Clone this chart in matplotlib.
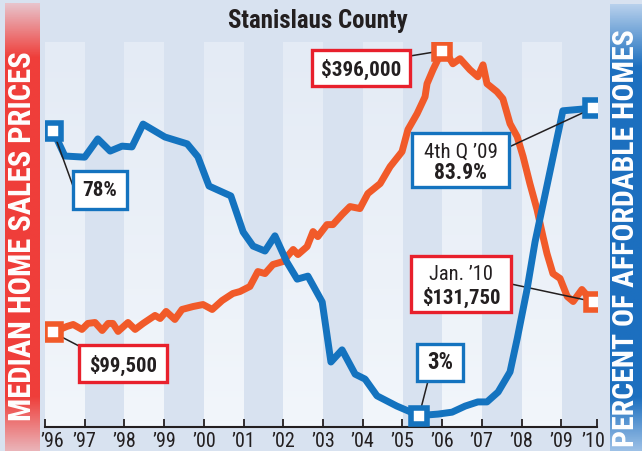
# -*- coding: UTF-8 -*-
import numpy as np
import matplotlib
matplotlib.use('Agg')
import matplotlib.pyplot as plt
from matplotlib import font_manager
from matplotlib.patches import Rectangle
from matplotlib.colors import LinearSegmentedColormap
from matplotlib.transforms import ScaledTranslation

# percent of affordable homes (blue line)
pct_year = [1996.2, 1996.5, 1997.0, 1997.33, 1997.64, 1997.94, 1998.19, 1998.47, 1999.02,
            1999.58, 1999.85, 2000.13, 2000.68, 2000.99, 2001.24, 2001.54, 2001.79, 2002.09,
            2002.35, 2002.62, 2002.98, 2003.2, 2003.48, 2003.81, 2004.06, 2004.36, 2004.86,
            2005.42, 2005.9, 2006.25, 2006.58, 2006.9, 2007.13, 2007.41, 2007.71, 2007.89,
            2008.14, 2008.34, 2009.04, 2009.8]
pct_val = [78, 71.3, 71.0, 75.8, 72.6, 73.9, 73.7, 79.7, 76.3,
           74.5, 71.1, 63.4, 60.8, 51.3, 47.6, 46.3, 50.3, 43.4,
           38.9, 39.7, 32.9, 17.1, 20.3, 13.9, 12.6, 8.2, 5.5,
           3.0, 3.4, 3.9, 5.5, 6.6, 6.6, 9.2, 14.5, 23.2,
           36.3, 48.7, 83.2, 83.9]

# median home sales price (orange line)
price_year = [1996.2, 1996.55, 1996.71, 1996.93, 1997.08, 1997.26, 1997.44, 1997.59, 1997.71,
              1997.84, 1998.09, 1998.27, 1998.47, 1998.77, 1998.9, 1999.05, 1999.27, 1999.45,
              1999.73, 1999.98, 2000.21, 2000.46, 2000.73, 2000.91, 2001.16, 2001.36, 2001.54,
              2001.74, 2001.99, 2002.25, 2002.37, 2002.6, 2002.75, 2002.87, 2003.1, 2003.25,
              2003.48, 2003.68, 2003.93, 2004.13, 2004.44, 2004.69, 2004.99, 2005.14, 2005.37,
              2005.57, 2005.62, 2005.77, 2006.0, 2006.12, 2006.27, 2006.45, 2006.7, 2006.9,
              2007.03, 2007.13, 2007.38, 2007.53, 2007.71, 2007.89, 2008.04, 2008.21, 2008.39,
              2008.54, 2008.64, 2008.79, 2008.97, 2009.15, 2009.3, 2009.52, 2009.67, 2009.83]
price_val = [99500, 105800, 107900, 102700, 109000, 110000, 101600, 109000, 109000,
             100600, 110000, 102700, 109000, 117400, 114200, 121600, 113200, 123700,
             126800, 128900, 123700, 133100, 140500, 142600, 147900, 163600, 161500,
             171000, 174100, 186800, 181500, 189900, 205700, 200400, 213000, 213000,
             223600, 232000, 229900, 245700, 256200, 274000, 289800, 313000, 329800,
             347600, 361300, 376000, 396000, 392800, 382300, 387600, 376000, 368600,
             381200, 361300, 352900, 345500, 319200, 305600, 284500, 256200, 228800,
             200400, 182600, 161500, 156300, 137400, 132100, 144700, 137400, 131750]

year_ticks = [1996, 1997, 1998, 1999, 2000, 2001, 2002, 2003, 2004, 2005, 2006, 2007, 2008, 2009, 2009.9]
year_labels = ['’96', '’97', '’98', '’99', '’00', '’01', '’02', '’03', '’04', '’05',
               '’06', '’07', '’08', '’09', '’10']

names = {f.name for f in font_manager.fontManager.ttflist}
NARROW = next((n for n in ['Liberation Sans Narrow', 'Roboto Condensed', 'Open Sans Condensed',
                           'DejaVu Sans Condensed'] if n in names), 'DejaVu Sans')
plt.rcParams['font.family'] = [NARROW, 'DejaVu Sans']
plt.rcParams['font.stretch'] = 'condensed'

BG = '#d8e2f0'
BLUE = '#1473bf'
ORANGE = '#f15a29'
RED = '#e8202c'
INK = '#231f20'

W, H = 642, 452
fig = plt.figure(figsize=(W / 100, H / 100), dpi=100)
fig.patch.set_facecolor(BG)

# main axes: price on the left scale, percent on a twin with the same height
ax = fig.add_axes([45 / W, 1 - 428 / H, 552 / W, 385 / H])
ax.set_facecolor(BG)
ax2 = ax.twinx()

# light year stripes, a little fainter toward the top
stripe = LinearSegmentedColormap.from_list('stripe', ['#f2f6fb', '#e4ebf5'])
grad = np.linspace(0, 1, 64)[:, None]
for i, y0 in enumerate(year_ticks[:-1]):
    if i % 2 == 0:
        ax.imshow(grad, cmap=stripe, aspect='auto', origin='lower', zorder=0,
                  extent=[y0, min(y0 + 1, year_ticks[-1]), 0, 405200])

ax.set_xlim(1996, year_ticks[-1])
ax.set_ylim(0, 405200)
ax2.set_ylim(0, 101.3)

ax.plot(price_year, price_val, color=ORANGE, lw=5, solid_joinstyle='round', zorder=3)
ax2.plot(pct_year, pct_val, color=BLUE, lw=5, solid_joinstyle='round', zorder=3)

ipk = int(np.argmax(price_val))
imn = int(np.argmin(pct_val))
mk = dict(marker='s', ms=12, mfc='white', mew=4, ls='none', zorder=6)
ax.plot([price_year[0], price_year[ipk], price_year[-1]],
        [price_val[0], price_val[ipk], price_val[-1]], mec=ORANGE, **mk)
ax2.plot([pct_year[0], pct_year[imn], pct_year[-1]],
         [pct_val[0], pct_val[imn], pct_val[-1]], mec=BLUE, **mk)

for a in (ax, ax2):
    for s in ('top', 'left', 'right'):
        a.spines[s].set_visible(False)
    a.set_yticks([])
ax2.spines['bottom'].set_visible(False)
ax.spines['bottom'].set_color(INK)
ax.spines['bottom'].set_linewidth(1.5)
ax.set_xticks(year_ticks, year_labels)
ax.tick_params(axis='x', direction='in', length=6, width=1.3, color=INK,
               pad=3, labelsize=14.5, labelcolor=INK)
labels = ax.get_xticklabels()
labels[0].set_transform(labels[0].get_transform() + ScaledTranslation(7 / 100, 0, fig.dpi_scale_trans))
labels[-1].set_transform(labels[-1].get_transform() + ScaledTranslation(-4 / 100, 0, fig.dpi_scale_trans))

renderer = fig.canvas.get_renderer()


def fit(t, target, vertical=False):
    bb = t.get_window_extent(renderer)
    size = bb.height if vertical else bb.width
    t.set_fontsize(t.get_fontsize() * target / size)


def label_box(a, xy, box, start, lines, edge):
    x0, y0, x1, y1 = box
    fig.patches.append(Rectangle((x0 / W, 1 - y1 / H), (x1 - x0) / W, (y1 - y0) / H,
                                 transform=fig.transFigure, fc='white', ec=edge, lw=2.4,
                                 zorder=5))
    a.annotate('', xy=xy, xytext=(start[0], H - start[1]), textcoords='figure pixels',
               arrowprops=dict(arrowstyle='-', color=INK, lw=1.1, shrinkA=0, shrinkB=0),
               zorder=4)
    for txt, cy, bold, w in lines:
        t = fig.text((x0 + x1) / 2 / W, 1 - cy / H, txt, ha='center', va='center',
                     fontsize=16, color=INK, weight='bold' if bold else 'normal', zorder=6)
        fit(t, w)


label_box(ax2, (pct_year[0], pct_val[0]), (73, 172, 127, 210), (73, 187),
          [(f'{pct_val[0]:.0f}%', 191, True, 35)], BLUE)
label_box(ax, (price_year[0], price_val[0]), (79, 346, 167, 383), (79, 347),
          [(f'${price_val[0]:,}', 365, True, 68)], RED)
label_box(ax, (price_year[ipk], price_val[ipk]), (312, 51, 410, 87), (410, 57),
          [(f'${price_val[ipk]:,}', 69, True, 80)], RED)
label_box(ax2, (pct_year[-1], pct_val[-1]), (412, 134, 509, 188), (509, 148),
          [('4th Q ’09', 152, False, 74), (f'{pct_val[-1]:.1f}%', 173, True, 53)], BLUE)
label_box(ax2, (pct_year[imn], pct_val[imn]), (417, 345, 463, 382), (428, 382),
          [(f'{pct_val[imn]:.0f}%', 363, True, 26)], BLUE)
label_box(ax, (price_year[-1], price_val[-1]), (411, 257, 511, 313), (511, 285),
          [('Jan. ’10', 275, False, 64), (f'${price_val[-1]:,}', 297, True, 79)], RED)


# side bars with faded ends
def side_bar(x0, x1, ytop, stops):
    b = fig.add_axes([x0 / W, 0, (x1 - x0) / W, 1 - ytop / H])
    b.axis('off')
    cmap = LinearSegmentedColormap.from_list('bar', stops)
    b.imshow(np.linspace(0, 1, 256)[:, None], aspect='auto', cmap=cmap,
             origin='lower', extent=[0, 1, 0, 1])


side_bar(5, 40, 4, [(0, '#eab3b8'), (0.12, '#ef3e3a'), (0.88, '#ef3e3a'), (1, '#e8c3cb')])
side_bar(610, 642, 5, [(0, '#9cc0e6'), (0.12, '#1c6fbf'), (0.86, '#1c6fbf'), (1, '#b7d0ec')])

t = fig.text(22 / W, 1 - 236 / H, 'MEDIAN HOME SALES PRICES', rotation=90, ha='center',
             va='center', color='white', weight='bold', fontsize=22)
fit(t, 370, vertical=True)
t = fig.text(626 / W, 1 - 238 / H, 'PERCENT OF AFFORDABLE HOMES', rotation=90, ha='center',
             va='center', color='white', weight='bold', fontsize=22)
fit(t, 416, vertical=True)

t = fig.text(318 / W, 1 - 21 / H, 'Stanislaus County', ha='center', va='center',
             color=INK, weight='bold', fontsize=17)
fit(t, 180)

fig.savefig('out.png', dpi=100, facecolor=BG)
